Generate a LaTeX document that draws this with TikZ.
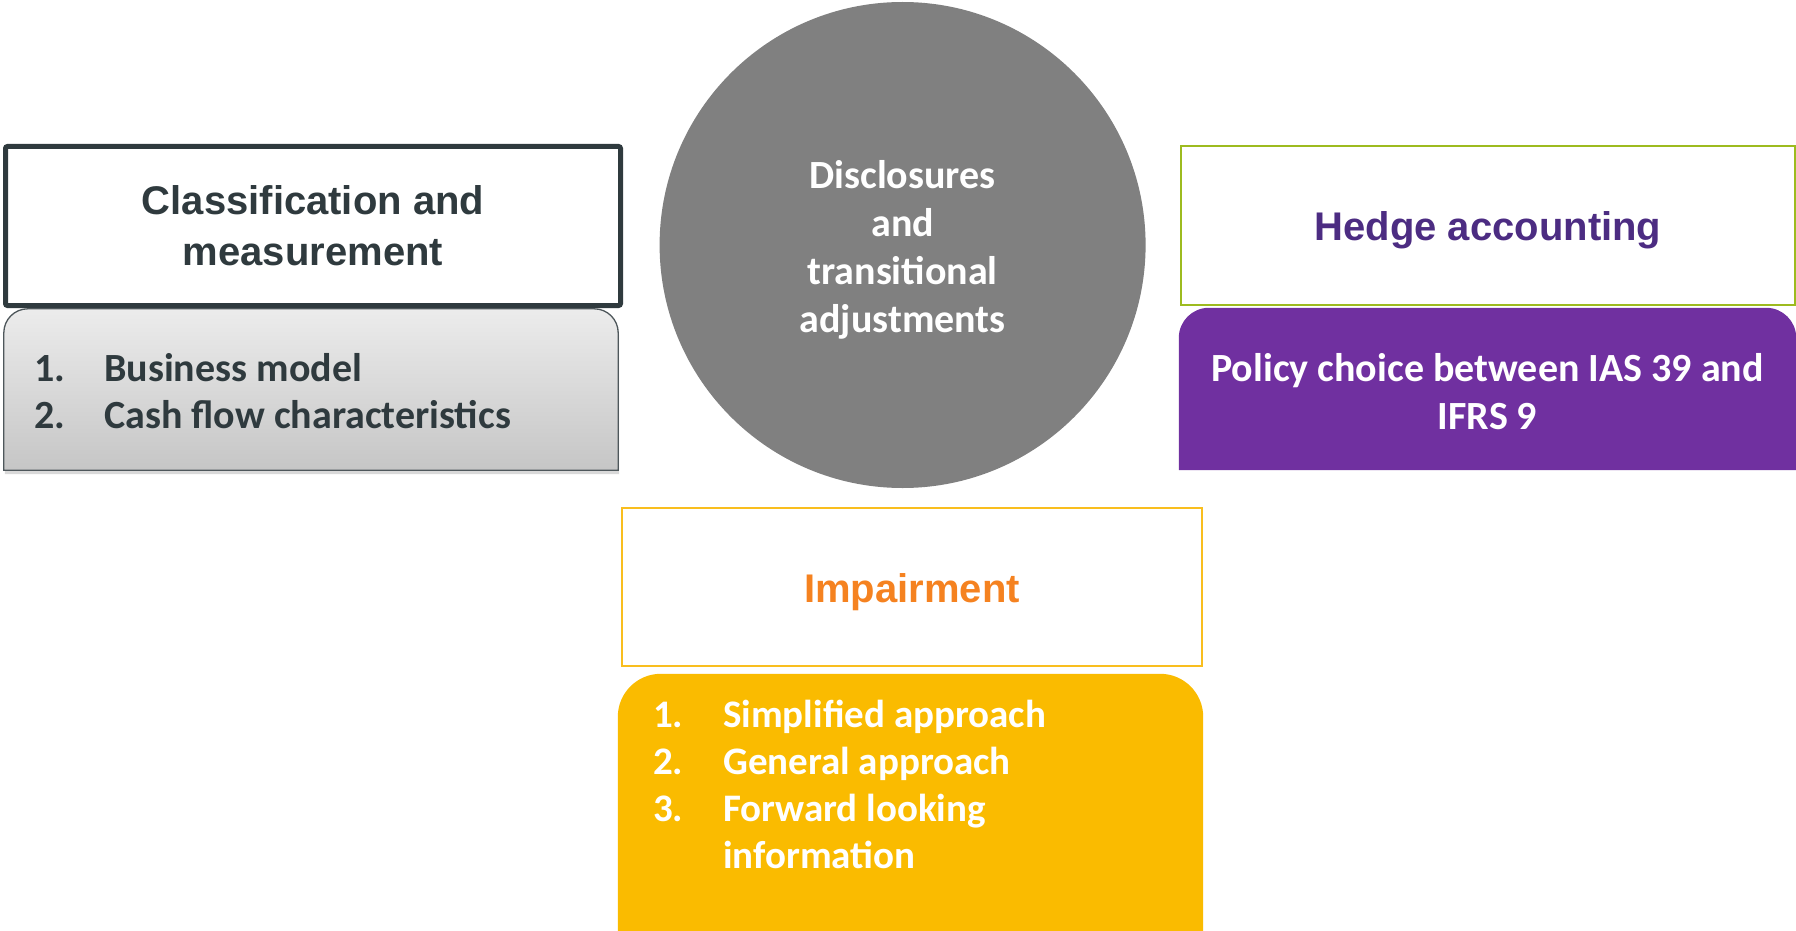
\documentclass[tikz,border=0pt]{standalone}
\usepackage{fontspec}
\setmainfont{Carlito}
\newfontfamily\headfont{Liberation Sans}
\usetikzlibrary{shadows}

\definecolor{slate}{HTML}{2F3A3E}
\definecolor{discgray}{HTML}{808080}
\definecolor{hedgegreen}{HTML}{9DBB1F}
\definecolor{hedgepurple}{HTML}{4C2C82}
\definecolor{policypurple}{HTML}{7030A0}
\definecolor{impairorange}{HTML}{F58220}
\definecolor{impairline}{HTML}{F9BE1E}
\definecolor{impairyellow}{HTML}{FABB00}

\tikzstyle{titlebox} = [rectangle, inner sep=0pt, align=center,
    font=\headfont\bfseries\fontsize{40}{51}\selectfont]
\tikzstyle{tabbox} = [rectangle, inner sep=0pt]
\tikzstyle{itemtext} = [inner sep=0pt, anchor=base west]

\newcommand{\numlist}[1]{\begin{tabular}[t]{@{}p{70pt}@{}l@{}}#1\end{tabular}}

\begin{document}
\begin{tikzpicture}[x=1pt, y=-1pt]
    \useasboundingbox (0,0) rectangle (1796,931);

    % classification and measurement
    \node [titlebox, draw=slate, line width=5pt, rounded corners=2pt, text=slate,
        minimum width=615pt, minimum height=159pt] (classtitle) at (313,226)
        {Classification and\\measurement};
    \node [tabbox, minimum width=614pt, minimum height=161pt] (classtab) at (311,389.5) {};
    \draw [slate!85, line width=1.3pt, top color=gray!15, bottom color=gray!45,
        drop shadow={shadow xshift=1pt, shadow yshift=-4pt, opacity=0.3}]
        (classtab.south east) -- (classtab.south west) [rounded corners=24pt]
        -- (classtab.west |- classtab.north) -- (classtab.east |- classtab.north)
        [sharp corners] -- cycle;
    \node [itemtext, text=slate, font=\bfseries\fontsize{40}{47}\selectfont]
        (classitems) at (34,381)
        {\numlist{1. & Business model\\ 2. & Cash flow characteristics}};

    % disclosures
    \node [circle, fill=discgray, minimum size=486pt, inner sep=0pt, align=center,
        text=white, font=\bfseries\fontsize{40}{48}\selectfont] (disclosures) at (902.6,245) {};
    \node [align=center, text=white, font=\bfseries\fontsize{40}{48}\selectfont]
        (disctext) at ([yshift=-5pt]disclosures.center)
        {Disclosures\\and\\transitional\\adjustments};

    % hedge accounting
    \node [titlebox, draw=hedgegreen, line width=2pt,
        minimum width=614pt, minimum height=159pt] (hedgetitle) at (1488,225.5) {};
    \node [titlebox, text=hedgepurple] (hedgetext) at ([yshift=-5pt]hedgetitle.center)
        {Hedge accounting};
    \node [tabbox, minimum width=617pt, minimum height=162pt] (hedgetab) at (1487.5,389) {};
    \fill [policypurple] (hedgetab.south east) -- (hedgetab.south west) [rounded corners=30pt]
        -- (hedgetab.west |- hedgetab.north) -- (hedgetab.east |- hedgetab.north)
        [sharp corners] -- cycle;
    \node [align=center, text=white, font=\bfseries\fontsize{40}{48}\selectfont]
        (policytext) at ([yshift=-3pt]hedgetab.center) {Policy choice between IAS 39 and\\IFRS 9};

    % impairment
    \node [titlebox, draw=impairline, line width=2pt,
        minimum width=580pt, minimum height=158pt] (impairtitle) at (912,587) {};
    \node [titlebox, text=impairorange] (impairtext) at ([yshift=-5pt]impairtitle.center)
        {Impairment};
    \node [tabbox, minimum width=585pt, minimum height=257pt] (impairtab) at (910.5,802.5) {};
    \fill [impairyellow] (impairtab.south east) -- (impairtab.south west) [rounded corners=43pt]
        -- (impairtab.west |- impairtab.north) -- (impairtab.east |- impairtab.north)
        [sharp corners] -- cycle;
    \node [itemtext, text=white, font=\bfseries\fontsize{39}{47}\selectfont]
        (impairitems) at (653,727)
        {\numlist{1. & Simplified approach\\ 2. & General approach\\
            3. & Forward looking\\ & information}};
\end{tikzpicture}
\end{document}
